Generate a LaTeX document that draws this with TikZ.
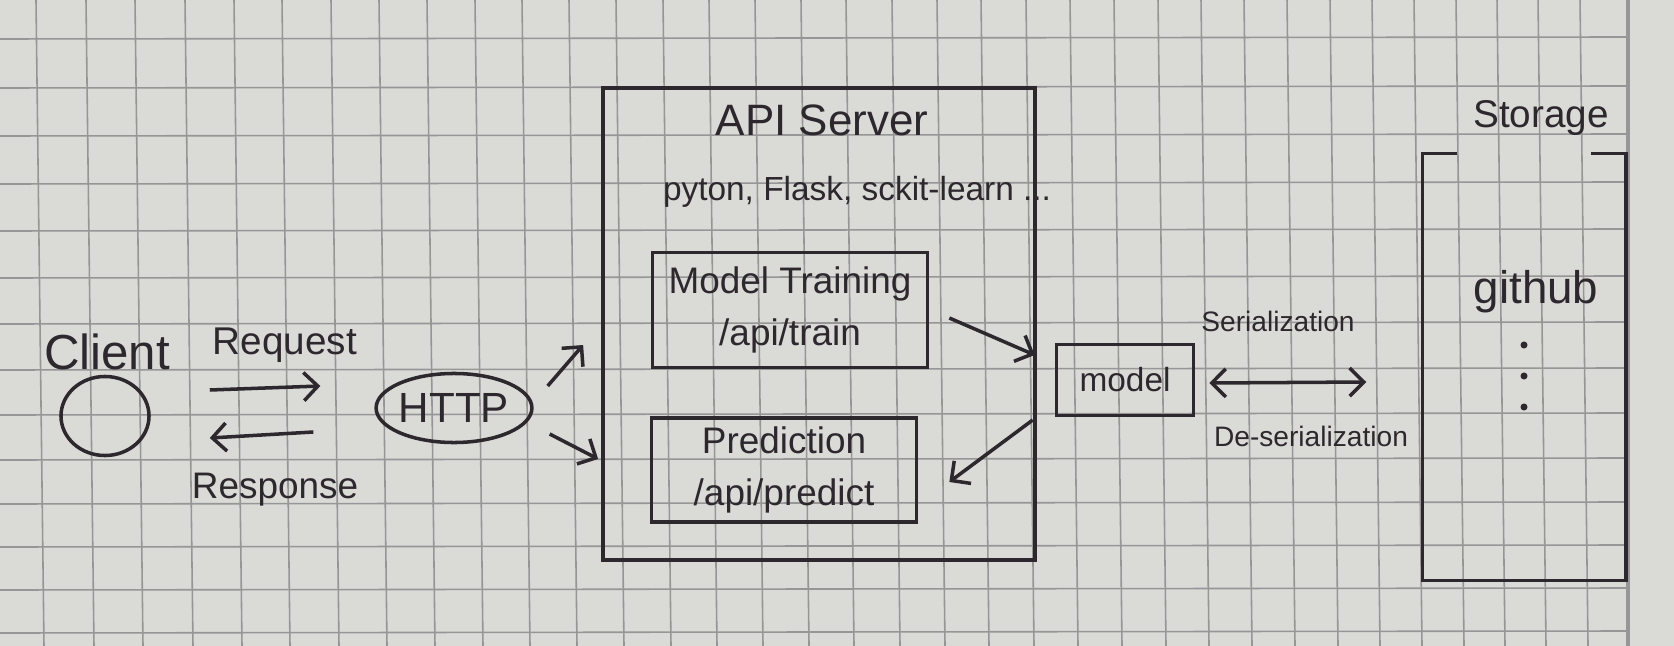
\documentclass[tikz,border=0pt]{standalone}
\usepackage{fontspec}
\setmainfont{Liberation Sans}
\usetikzlibrary{positioning,calc,arrows.meta,shapes.geometric}
\definecolor{PaperGray}{RGB}{218,218,215}
\definecolor{GridGray}{RGB}{150,150,150}
\definecolor{InkDark}{RGB}{45,40,45}
\tikzset{
  ink/.style={draw=InkDark,line width=1pt,text=InkDark},
  arr/.style={ink,-{Straight Barb[length=4pt,width=8pt]}},
  darr/.style={ink,{Straight Barb[length=4pt,width=8pt]}-{Straight Barb[length=4pt,width=8pt]}},
  gridline/.style={draw=GridGray,line width=0.45pt},
  blob/.style={ellipse,ink,inner sep=0pt},
  endpoint/.style={rectangle,ink,inner sep=0pt,align=center,font=\fontsize{10.5}{15}\selectfont},
  lbl/.style={inner sep=0pt,text=InkDark},
}
\begin{document}
\begin{tikzpicture}[x=0.01cm,y=-0.01cm]
\fill[PaperGray] (0,0) rectangle (1674,646);
\useasboundingbox (0,0) rectangle (1674,646);
\foreach \gx in {36,86,135,185,234,282,331,379,427,475,522,569,616,663,709,755,
    801,846,892,937,981,1026,1070,1114,1158,1201,1244,1287,1330,1372,1414,1456,1497,1538,1580}
  \draw[gridline] (\gx,0) -- ++(8,646);
\foreach \gy in {39,88,136,184,231,278,324,370,415,460,504,547,590,633}
  \draw[gridline] (0,\gy) -- (1628,\gy-2);
\draw[draw=GridGray,line width=1.2pt] (1628,0) -- (1628,646);

\node[blob,minimum width=0.88cm,minimum height=0.79cm] (client) at (105,416) {};
\node[lbl,font=\fontsize{14}{16}\selectfont] (clientlbl) at (107,352) {Client};
\node[blob,minimum width=1.28cm,minimum height=0.69cm,font=\fontsize{12}{14}\selectfont] (http) at (454,408) {HTTP};
\node[lbl,font=\fontsize{11}{13}\selectfont] (reqlbl) at (285,345) {Request};
\node[lbl,font=\fontsize{10.5}{13}\selectfont] (resplbl) at (275,490) {Response};
\draw[arr] ($(client.east)+(59,-26)$) -- ($(http.west)+(-54,-22)$);
\draw[arr] ($(http.west)+(-61,24)$) -- ($(client.east)+(59,22)$);

\node[rectangle,ink,minimum width=4.32cm,minimum height=4.72cm] (api) at (819,324) {};
\node[lbl,font=\fontsize{12.5}{15}\selectfont] (apilbl) at (822,120) {API Server};
\node[lbl,font=\fontsize{9.5}{11}\selectfont] (stack) at (857,192) {pyton, Flask, sckit-learn ...};
\node[endpoint,minimum width=2.75cm,minimum height=1.15cm] (train) at (790,310) {Model Training\\/api/train};
\node[endpoint,minimum width=2.65cm,minimum height=1.04cm] (predict) at (784,470) {Prediction\\/api/predict};
\draw[arr] ($(http.east)+(14,-22)$) -- ($(api.west)+(-18,21)$);
\draw[arr] ($(http.east)+(16,26)$) -- ($(api.west)+(-3,135)$);

\node[rectangle,ink,minimum width=1.37cm,minimum height=0.71cm,font=\fontsize{9.5}{11}\selectfont] (model) at (1125,380) {model};
\draw[arr] ($(train.east)+(20,8)$) -- ($(model.west)+(-20,-25)$);
\draw[arr] ($(model.west)+(-22,40)$) -- ($(predict.east)+(31,12)$);

\node[minimum width=2.02cm,minimum height=4.25cm] (storage) at (1524,367) {};
\draw[ink] ($(storage.north west)+(35,0)$) -- (storage.north west) -- (storage.south west)
  -- (storage.south east) -- (storage.north east) -- ++(-35,0);
\node[lbl,font=\fontsize{11}{13}\selectfont] (storagelbl) at (1541,118) {Storage};
\node[lbl,font=\fontsize{13}{15}\selectfont] (github) at (1536,292) {github};
\foreach \y in {345,376,407}
  \fill[InkDark] (1524,\y) circle (1pt);

\draw[darr] ($(model.east)+(14,3)$) -- ($(storage.west)+(-56,15)$);
\node[lbl,font=\fontsize{8}{10}\selectfont] (serlbl) at (1278,321) {Serialization};
\node[lbl,font=\fontsize{8}{10}\selectfont] (deserlbl) at (1311,436) {De-serialization};
\end{tikzpicture}
\end{document}
